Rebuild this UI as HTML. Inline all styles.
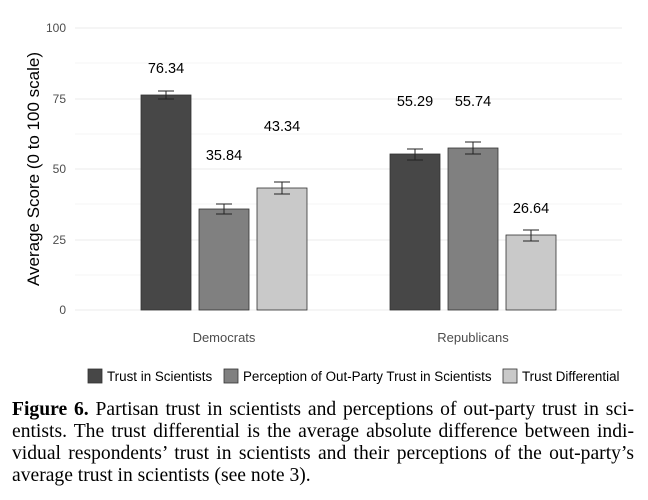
<!DOCTYPE html>
<html><head><meta charset="utf-8"><style>
body{margin:0;background:#fff;width:648px;height:500px;overflow:hidden}
.cap{position:absolute;left:12px;top:399px;width:622px;font-family:"Liberation Serif",serif;font-size:19.6px;line-height:22px;color:#000}
.cap div{text-align:justify;text-align-last:justify;white-space:nowrap}
.cap div.l{text-align-last:left}
</style></head><body>
<svg width="648" height="400" style="position:absolute;left:0;top:0" font-family="Liberation Sans, sans-serif">
<g stroke="#ebebeb" stroke-width="1">
<line x1="75" x2="622" y1="28" y2="28"/><line x1="75" x2="622" y1="99" y2="99"/><line x1="75" x2="622" y1="169" y2="169"/><line x1="75" x2="622" y1="240" y2="240"/><line x1="75" x2="622" y1="310" y2="310"/>
<line x1="75" x2="622" y1="63" y2="63" stroke="#f4f4f4"/><line x1="75" x2="622" y1="134" y2="134" stroke="#f4f4f4"/><line x1="75" x2="622" y1="204" y2="204" stroke="#f4f4f4"/><line x1="75" x2="622" y1="275" y2="275" stroke="#f4f4f4"/>
</g>
<g font-size="12" fill="#4d4d4d" text-anchor="end">
<text x="66" y="32">100</text><text x="66" y="103">75</text><text x="66" y="173">50</text><text x="66" y="244">25</text><text x="66" y="314">0</text>
</g>
<text transform="translate(39,169) rotate(-90)" text-anchor="middle" font-size="17" fill="#000">Average Score (0 to 100 scale)</text>
<g stroke="#333" stroke-width="0.8">
<rect x="141" y="95" width="50" height="215" fill="#474747"/>
<rect x="199" y="209" width="50" height="101" fill="#808080"/>
<rect x="257" y="188" width="50" height="122" fill="#c9c9c9"/>
<rect x="390" y="154" width="50" height="156" fill="#474747"/>
<rect x="448" y="148" width="50" height="162" fill="#808080"/>
<rect x="506" y="235" width="50" height="75" fill="#c9c9c9"/>
</g>
<g stroke="#222" stroke-width="1" fill="none">
<path d="M158 91H174M166 91V99M158 99H174"/>
<path d="M216 204H232M224 204V214M216 214H232"/>
<path d="M274 182H290M282 182V194M274 194H290"/>
<path d="M407 149H423M415 149V160M407 160H423"/>
<path d="M465 142H481M473 142V154M465 154H481"/>
<path d="M523 230H539M531 230V241M523 241H539"/>
</g>
<g font-size="14.5" fill="#000" text-anchor="middle">
<text x="166" y="73">76.34</text><text x="224" y="160">35.84</text><text x="282" y="131">43.34</text>
<text x="415" y="106">55.29</text><text x="473" y="106">55.74</text><text x="531" y="213">26.64</text>
</g>
<g font-size="13" fill="#4d4d4d" text-anchor="middle"><text x="224" y="342">Democrats</text><text x="473" y="342">Republicans</text></g>
<g font-size="13.4" fill="#000" stroke-width="0.8">
<rect x="88" y="369" width="14" height="14" fill="#474747" stroke="#333"/><text x="107" y="381">Trust in Scientists</text>
<rect x="224" y="369" width="14" height="14" fill="#808080" stroke="#333"/><text x="243" y="381">Perception of Out-Party Trust in Scientists</text>
<rect x="503" y="369" width="14" height="14" fill="#c9c9c9" stroke="#333"/><text x="522" y="381">Trust Differential</text>
</g>
</svg>
<div class="cap">
<div><b>Figure 6.</b> Partisan trust in scientists and perceptions of out-party trust in sci-</div>
<div>entists. The trust differential is the average absolute difference between indi-</div>
<div>vidual respondents’ trust in scientists and their perceptions of the out-party’s</div>
<div class="l">average trust in scientists (see note 3).</div>
</div>
</body></html>
